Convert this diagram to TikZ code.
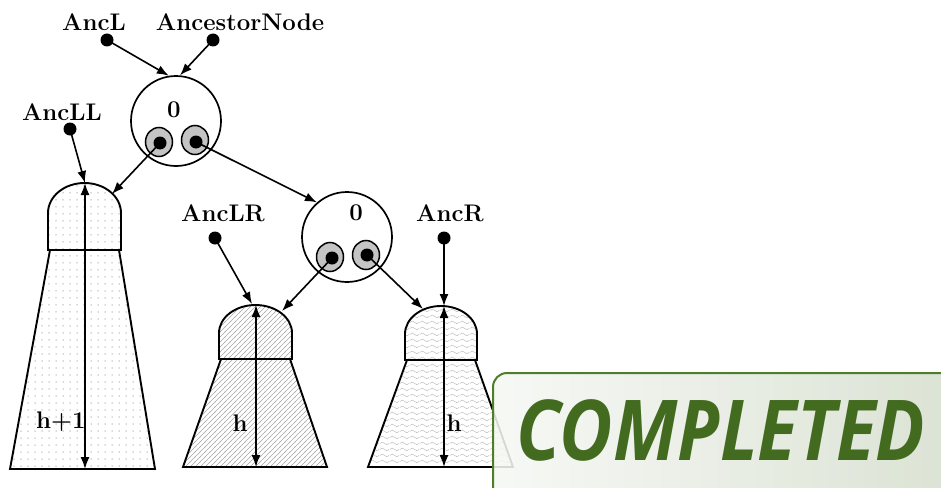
\documentclass[tikz,border=0pt]{standalone}
\usepackage{fontspec}
\newfontfamily\stampfont{Open Sans}
\usetikzlibrary{arrows.meta,patterns,shapes.geometric}
\definecolor{stampgreen}{HTML}{436B1F}
\definecolor{stampborder}{HTML}{4E7D2B}
\definecolor{innergray}{HTML}{C4C4C4}
\pgfdeclarepatternformonly{sparsedots}{\pgfpoint{-1pt}{-1pt}}{\pgfpoint{1pt}{1pt}}{\pgfpoint{7pt}{7pt}}{\pgfpathcircle{\pgfpointorigin}{0.75pt}\pgfusepath{fill}}
\pgfdeclarepatternformonly{hatchlines}{\pgfpoint{-0.5pt}{-0.5pt}}{\pgfpoint{5.5pt}{5.5pt}}{\pgfpoint{5pt}{5pt}}{\pgfsetlinewidth{0.5pt}\pgfpathmoveto{\pgfpoint{-0.5pt}{-0.5pt}}\pgfpathlineto{\pgfpoint{5.5pt}{5.5pt}}\pgfusepath{stroke}}
\pgfdeclarepatternformonly{wavylines}{\pgfpoint{0pt}{0pt}}{\pgfpoint{10pt}{6pt}}{\pgfpoint{10pt}{6pt}}{\pgfsetlinewidth{0.5pt}\pgfpathmoveto{\pgfpoint{0pt}{3pt}}\pgfpathcurveto{\pgfpoint{1.7pt}{5pt}}{\pgfpoint{3.3pt}{5pt}}{\pgfpoint{5pt}{3pt}}\pgfpathcurveto{\pgfpoint{6.7pt}{1pt}}{\pgfpoint{8.3pt}{1pt}}{\pgfpoint{10pt}{3pt}}\pgfusepath{stroke}}
\tikzset{
  lbl/.style={font=\fontsize{24}{28}\selectfont\bfseries, inner sep=0pt},
  dotnode/.style={circle, fill=black, inner sep=0pt, minimum size=13pt},
  bigcirc/.style={circle, draw, line width=1.7pt, inner sep=0pt, minimum size=90pt},
  innerell/.style={ellipse, draw, line width=1.5pt, fill=innergray, inner sep=0pt, minimum width=27pt, minimum height=29pt},
  arr/.style={line width=1.6pt, -{Latex[length=12pt,width=9pt]}},
  dblarr/.style={line width=1.6pt, {Latex[length=12pt,width=9pt]}-{Latex[length=12pt,width=9pt]}},
  treeshape/.style={draw, line width=1.9pt},
  stampbox/.style={draw=stampborder, line width=2pt, rounded corners=14pt, left color=stampgreen!5, right color=stampgreen!22, fill opacity=0.88},
  stamptext/.style={font=\stampfont\fontsize{84}{90}\selectfont\bfseries\itshape, text=stampgreen, inner sep=0pt, anchor=base}
}
\begin{document}
\begin{tikzpicture}[x=1pt,y=-1pt]
\useasboundingbox (0,0) rectangle (941,487);
% tree shapes
% left (h+1), dotted
\draw[treeshape, pattern=sparsedots, pattern color=gray!60] (48,250) -- (48,213) arc[start angle=180, end angle=0, x radius=36.5pt, y radius=30pt] -- (121,250) -- cycle;
\draw[treeshape, pattern=sparsedots, pattern color=gray!60] (50,250) -- (119,250) -- (155,469) -- (10,469) -- cycle;
% middle (h), hatched
\draw[treeshape, pattern=hatchlines, pattern color=gray!70] (219,359) -- (219,333) arc[start angle=180, end angle=0, x radius=36.5pt, y radius=28pt] -- (292,359) -- cycle;
\draw[treeshape, pattern=hatchlines, pattern color=gray!70] (221,359) -- (290,359) -- (327,467) -- (183,467) -- cycle;
% right (h), wavy
\draw[treeshape, pattern=wavylines, pattern color=gray!55] (405,360) -- (405,334) arc[start angle=180, end angle=0, x radius=36pt, y radius=28pt] -- (477,360) -- cycle;
\draw[treeshape, pattern=wavylines, pattern color=gray!55] (407,360) -- (475,360) -- (513,467) -- (368,467) -- cycle;
% coordinates on shapes
\coordinate (t1top) at (85,183);
\coordinate (t1bot) at (85,469);
\coordinate (t1in) at (112,194);
\coordinate (t2top) at (256,305);
\coordinate (t2bot) at (256,467);
\coordinate (t2anc) at (252,304);
\coordinate (t2in) at (282,311);
\coordinate (t3top) at (444,306);
\coordinate (t3bot) at (444,467);
\coordinate (t3in) at (423,309);
% height arrows
\draw[dblarr] (t1bot) -- (t1top);
\draw[dblarr] (t2bot) -- (t2top);
\draw[dblarr] (t3bot) -- (t3top);
\node[lbl] (hl1) at (61,422) {h+1};
\node[lbl] (hl2) at (240,423) {h};
\node[lbl] (hl3) at (454,423) {h};
% circles
\node[bigcirc] (c1) at (176,121) {};
\node[lbl] (z1) at (174,110) {0};
\node[innerell] (c1l) at (159,142) {};
\node[innerell] (c1r) at (195,140) {};
\node[dotnode] (c1ld) at (160,143) {};
\node[dotnode] (c1rd) at (196,142) {};
\node[bigcirc] (c2) at (347,237) {};
\node[lbl] (z2) at (356,213) {0};
\node[innerell] (c2l) at (330,257) {};
\node[innerell] (c2r) at (366,255) {};
\node[dotnode] (c2ld) at (332,258) {};
\node[dotnode] (c2rd) at (367,255) {};
% ancestor labels and dots
\node[lbl] (lAncL) at (94,22) {AncL};
\node[dotnode] (dAncL) at (107,40) {};
\node[lbl] (lAncN) at (240,22) {AncestorNode};
\node[dotnode] (dAncN) at (213,40) {};
\node[lbl] (lAncLL) at (62,112) {AncLL};
\node[dotnode] (dAncLL) at (70,129) {};
\node[lbl] (lAncLR) at (223,213) {AncLR};
\node[dotnode] (dAncLR) at (215,238) {};
\node[lbl] (lAncR) at (450,213) {AncR};
\node[dotnode] (dAncR) at (444,238) {};
% connectors
\draw[arr] (dAncL.center) -- (c1.99);
\draw[arr] (dAncN.center) -- (c1.85);
\draw[arr] (dAncLL.center) -- (t1top);
\draw[arr] (c1ld.center) -- (t1in);
\draw[arr] (c1rd.center) -- (c2.131);
\draw[arr] (dAncLR.center) -- (t2anc);
\draw[arr] (c2ld.center) -- (t2in);
\draw[arr] (c2rd.center) -- (t3in);
\draw[arr] (dAncR.center) -- (t3top);
% stamp
\draw[stampbox] (493,373) rectangle (960,505);
\node[stamptext] (stamp) at (721,460) {\scalebox{0.87}[1]{COMPLETED}};
\end{tikzpicture}
\end{document}
